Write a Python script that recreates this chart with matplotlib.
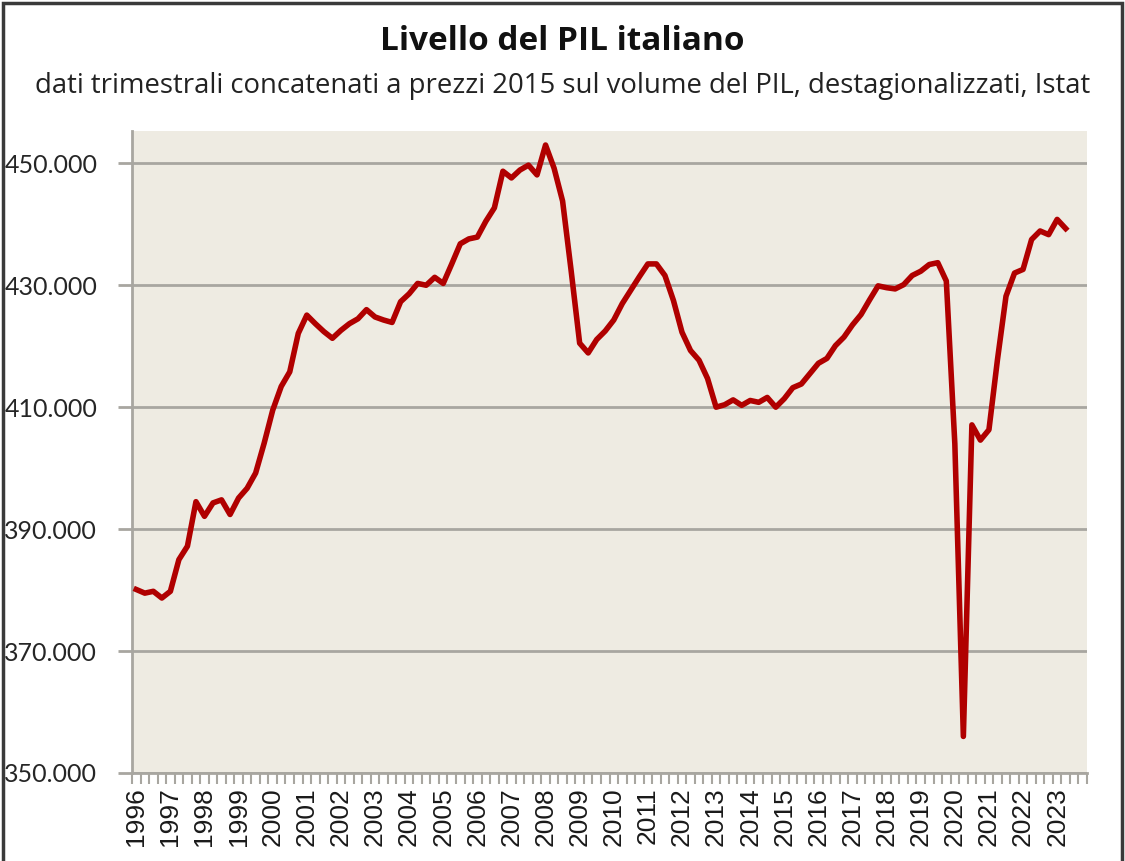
import matplotlib
matplotlib.use("Agg")
import matplotlib.pyplot as plt
from matplotlib.ticker import FixedLocator, MultipleLocator
from matplotlib.patches import Rectangle

# quarterly GDP level, thousand of million euro (1996Q1 .. 2023Q2)
first_year = 1996
last_year = 2023
gdp = [
    380.1, 379.5, 379.8, 378.7, 379.8, 385.0, 387.2, 394.5,
    392.1, 394.3, 394.8, 392.4, 395.1, 396.7, 399.2, 404.1,
    409.5, 413.4, 415.8, 422.1, 425.1, 423.7, 422.4, 421.3,
    422.6, 423.7, 424.5, 426.0, 424.8, 424.3, 423.9, 427.3,
    428.6, 430.3, 430.0, 431.3, 430.3, 433.5, 436.8, 437.6,
    437.9, 440.5, 442.7, 448.7, 447.6, 448.9, 449.7, 448.1,
    453.0, 449.2, 443.8, 432.4, 420.5, 418.9, 421.1, 422.5,
    424.3, 427.0, 429.2, 431.4, 433.5, 433.5, 431.6, 427.5,
    422.3, 419.3, 417.7, 414.7, 410.0, 410.4, 411.2, 410.3,
    411.1, 410.8, 411.6, 410.0, 411.4, 413.2, 413.8, 415.5,
    417.2, 418.0, 420.1, 421.5, 423.5, 425.2, 427.6, 429.9,
    429.6, 429.4, 430.1, 431.6, 432.3, 433.4, 433.7, 430.7,
    404.0, 356.0, 407.1, 404.6, 406.3, 417.8, 428.2, 432.0,
    432.6, 437.5, 438.9, 438.3, 440.8, 439.3,
]
y_ticks = [350, 370, 390, 410, 430, 450]
y_labels = ["350.000", "370.000", "390.000", "410.000", "430.000", "450.000"]

title = "Livello del PIL italiano"
subtitle = "dati trimestrali concatenati a prezzi 2015 sul volume del PIL, destagionalizzati, Istat"

years = list(range(first_year, last_year + 1))
n_cat = len(years) * 4

fig = plt.figure(figsize=(11.25, 8.61), dpi=100)
ax = fig.add_axes([132 / 1125, 1 - 773 / 861, (1087 - 132) / 1125, (773 - 131) / 861])
ax.set_facecolor("#EEEBE2")

ax.plot(range(len(gdp)), gdp, color="#B00000", lw=4, solid_joinstyle="round", zorder=3)

ax.set_xlim(-0.5, n_cat - 0.5)
ax.set_ylim(350, 455.3)

ax.yaxis.set_major_locator(FixedLocator(y_ticks))
ax.set_yticklabels(y_labels, fontfamily="Lato", fontsize=18, color="#262626")
ax.grid(axis="y", color="#A8A6A0", lw=2, zorder=1)
ax.tick_params(axis="y", length=10, width=2, color="#A8A6A0", pad=15)

# years as labels at Q1 of each year, quarter ticks between categories
ax.set_xticks([4 * k for k in range(len(years))])
ax.set_xticklabels([str(y) for y in years], rotation=90, fontfamily="Liberation Sans",
                   fontsize=19, color="#1a1a1a")
ax.tick_params(axis="x", which="major", length=0, pad=10)
ax.xaxis.set_minor_locator(MultipleLocator(1, offset=0.5))
ax.tick_params(axis="x", which="minor", length=8, width=1.5, color="#A8A6A0")

for s in ["top", "right"]:
    ax.spines[s].set_visible(False)
for s in ["left", "bottom"]:
    ax.spines[s].set_color("#A8A6A0")
    ax.spines[s].set_linewidth(2)

fig.text(0.5, 1 - 41 / 861, title, ha="center", va="center", fontsize=24,
         fontweight="bold", fontfamily="Open Sans", color="#111111")
fig.text(0.5, 1 - 86 / 861, subtitle, ha="center", va="center", fontsize=19.8,
         fontfamily="Open Sans", color="#222222")

fig.patches.append(Rectangle((0.0027, -0.01), 0.9946, 1.0065, transform=fig.transFigure,
                             fill=False, edgecolor="#3a3a3a", lw=2.5))

fig.savefig("out.png", dpi=100)
